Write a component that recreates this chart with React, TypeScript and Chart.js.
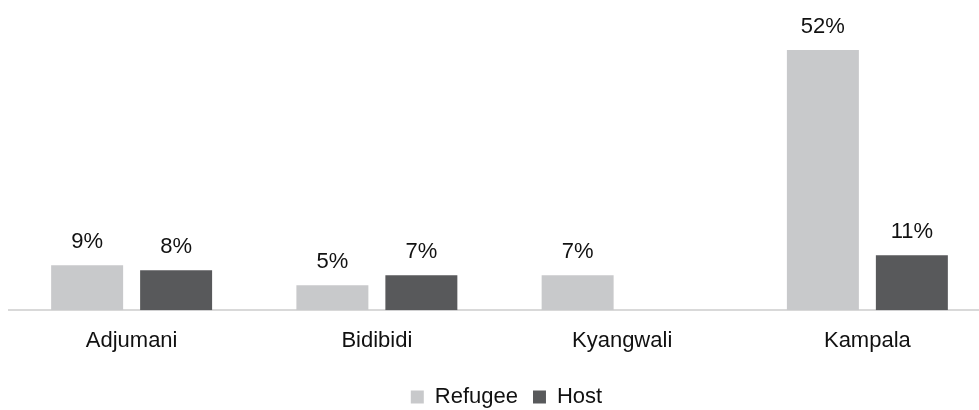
import { useEffect, useRef } from "react";
import { Chart, registerables } from "chart.js";

Chart.register(...registerables);

const categories = ["Adjumani", "Bidibidi", "Kyangwali", "Kampala"];
const seriesNames = ["Refugee", "Host"];
const refugeeValues: (number | null)[] = [9, 5, 7, 52];
const hostValues: (number | null)[] = [8, 7, null, 11];

const FONT = "'Liberation Sans', Arial, sans-serif";

const dataLabels = {
  id: "dataLabels",
  afterDatasetsDraw(chart: any) {
    const ctx = chart.ctx;
    ctx.save();
    ctx.font = `22px ${FONT}`;
    ctx.fillStyle = "#111";
    ctx.textAlign = "center";
    ctx.textBaseline = "alphabetic";
    chart.data.datasets.forEach((ds: any, di: number) => {
      const meta = chart.getDatasetMeta(di);
      meta.data.forEach((bar: any, i: number) => {
        const v = ds.data[i];
        if (v == null) return;
        ctx.fillText(`${v}%`, bar.x, bar.y - 17);
      });
    });
    ctx.restore();
  },
};

const legendShift = {
  id: "legendShift",
  afterLayout(chart: any) {
    if (chart.legend) {
      chart.legend.left += 7;
      chart.legend.right += 7;
    }
  },
};

export default function App() {
  const ref = useRef<HTMLCanvasElement>(null);
  useEffect(() => {
    if (!ref.current) return;
    const chart = new Chart(ref.current, {
      type: "bar",
      data: {
        labels: categories,
        datasets: [
          {
            label: seriesNames[0],
            data: refugeeValues,
            backgroundColor: "#c8c9cb",
            categoryPercentage: 0.7256,
            barPercentage: 0.809,
          },
          {
            label: seriesNames[1],
            data: hostValues,
            backgroundColor: "#58595b",
            categoryPercentage: 0.7256,
            barPercentage: 0.809,
          },
        ],
      },
      options: {
        animation: false,
        responsive: true,
        maintainAspectRatio: false,
        layout: { padding: { left: 9, right: 0, top: 10, bottom: 0 } },
        plugins: {
          legend: {
            position: "bottom",
            labels: {
              boxWidth: 13,
              boxHeight: 13,
              padding: 15,
              color: "#111",
              font: { size: 22, family: FONT },
            },
          },
          tooltip: { enabled: false },
        },
        scales: {
          x: {
            grid: { display: false, drawTicks: false },
            border: { display: true, color: "#d9d9d9", width: 2 },
            ticks: { padding: 17.8, color: "#111", font: { size: 22, family: FONT } },
            afterFit: (s: any) => {
              s.height -= 1.2;
            },
          },
          y: { display: false, min: 0, max: 60 },
        },
      },
      plugins: [dataLabels, legendShift],
    } as any);
    return () => chart.destroy();
  }, []);
  return (
    <div
      style={{
        position: "fixed",
        left: 0,
        top: 0,
        width: 979,
        height: 410,
        overflow: "hidden",
        background: "#fff",
      }}
    >
      <div style={{ position: "relative", width: 990, height: 418 }}>
        <canvas ref={ref} />
      </div>
    </div>
  );
}
